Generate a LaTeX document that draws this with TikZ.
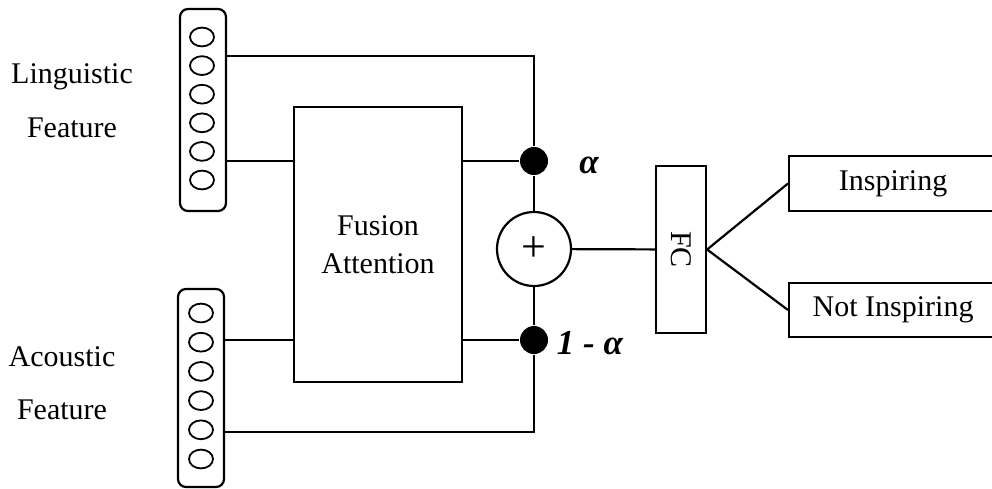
\documentclass[tikz,border=0pt]{standalone}
\usepackage{fontspec}
\usepackage{graphicx}
\setmainfont{Liberation Serif}
\usetikzlibrary{calc}

\begin{document}
\begin{tikzpicture}[x=0.5pt,y=-0.5pt,line width=1.1pt,
    font=\fontsize{15}{19}\selectfont,
    vecbox/.style={draw,rounded corners=4pt,minimum width=23pt,inner sep=0pt},
    plainbox/.style={draw,inner sep=0pt},
    dot/.style={circle,fill,inner sep=0pt,minimum size=14pt},
    sumnode/.style={circle,draw,inner sep=0pt,minimum size=37pt,font=\fontsize{22}{22}\selectfont},
    weight/.style={font=\fontsize{17.5}{19}\selectfont\bfseries\itshape}]
  \useasboundingbox (0,0) rectangle (992,488);
  % feature vectors
  \node[vecbox,minimum height=101pt] (ling) at (203,110) {};
  \node[vecbox,minimum height=99pt] (acou) at (201,388) {};
  \foreach \i in {0,...,5}
    {
      \draw[line width=0.9pt] (202,{37+28.6*\i}) ellipse (6pt and 4.7pt);
      \draw[line width=0.9pt] (201,{313+29.2*\i}) ellipse (6pt and 4.7pt);
    }
  \node (lingname) at (72,77) {Linguistic};
  \node (lingfeat) at (72,128) {Feature};
  \node (acouname) at (62,357) {Acoustic};
  \node (acoufeat) at (62,410) {Feature};
  % fusion and weights
  \node[plainbox,minimum width=84pt,minimum height=137.5pt,align=center] (fusion) at (378,244.5) {Fusion\\Attention};
  \node[dot] (dotA) at (534,161) {};
  \node[dot] (dotB) at (534,340) {};
  \node[sumnode] (sum) at (534,249) {+};
  \node[weight] (alpha) at (589,165) {α};
  \node[weight] (oneminus) at (590,343) {1 - α};
  \coordinate (topturn) at (534,56);
  \coordinate (botturn) at (534,432);
  % classifier
  \node[plainbox,minimum width=25pt,minimum height=83.5pt] (fc) at (681,249.5) {\rotatebox{-90}{FC}};
  \node[plainbox,minimum width=104pt,minimum height=27.5pt,anchor=west] (insp) at (788,183.5) {Inspiring};
  \node[plainbox,minimum width=104pt,minimum height=27pt,anchor=west] (notinsp) at (788,310) {Not Inspiring};
  % connections
  \draw (ling.east |- topturn) -- (topturn) -- (dotA);
  \draw (ling.east |- dotA) -- (fusion.west |- dotA);
  \draw (fusion.east |- dotA) -- (dotA);
  \draw (acou.east |- dotB) -- (fusion.west |- dotB);
  \draw (fusion.east |- dotB) -- (dotB);
  \draw (acou.east |- botturn) -- (botturn) -- (dotB);
  \draw (dotA) -- (sum);
  \draw (sum) -- (dotB);
  \draw (sum) -- (fc);
  \draw (fc.east) -- (insp.west);
  \draw (fc.east) -- (notinsp.west);
\end{tikzpicture}
\end{document}
